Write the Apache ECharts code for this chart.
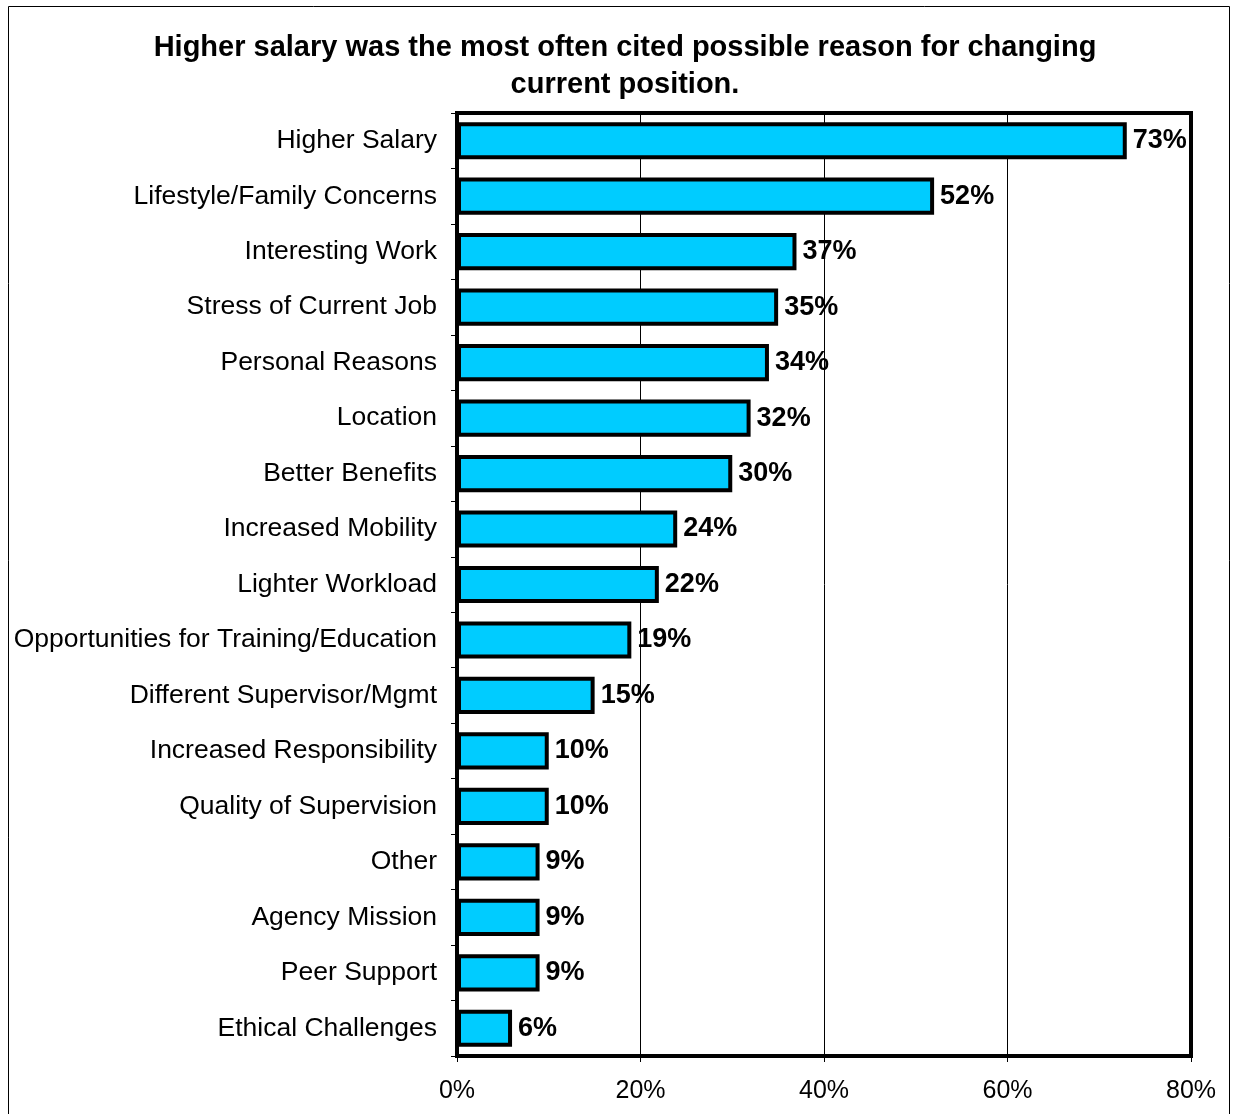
<!DOCTYPE html>
<html><head><meta charset="utf-8">
<script src="https://cdn.jsdelivr.net/npm/echarts@6/dist/echarts.min.js"></script>
<style>html,body{margin:0;padding:0;background:#fff}#c{width:1235px;height:1114px}</style>
</head><body><div id="c"></div>
<script>
const categories = ["Higher Salary","Lifestyle/Family Concerns","Interesting Work","Stress of Current Job","Personal Reasons","Location","Better Benefits","Increased Mobility","Lighter Workload","Opportunities for Training/Education","Different Supervisor/Mgmt","Increased Responsibility","Quality of Supervision","Other","Agency Mission","Peer Support","Ethical Challenges"];
const values = [73,52,37,35,34,32,30,24,22,19,15,10,10,9,9,9,6];
const titleText = "Higher salary was the most often cited possible reason for changing\ncurrent position.";
const xTicks = [0,20,40,60,80];

const chart = echarts.init(document.getElementById('c'), null, {renderer:'canvas'});
const font = '"Liberation Sans", Arial, sans-serif';
chart.setOption({
  animation:false,
  backgroundColor:'#fff',
  title:{text:titleText,left:620,top:24,textAlign:'center',
    textStyle:{fontFamily:font,fontSize:29,fontWeight:'bold',color:'#000',lineHeight:37}},
  graphic:[{type:'rect',shape:{x:8.5,y:6.5,width:1221,height:1200},style:{fill:'none',stroke:'#000',lineWidth:1},silent:true,z:-10}],
  grid:{left:457,right:44,top:113,bottom:58,show:true,borderColor:'#000',borderWidth:4,backgroundColor:'transparent'},
  xAxis:{type:'value',min:0,max:80,interval:20,
    axisLine:{show:false},
    axisTick:{show:true,length:6,lineStyle:{color:'#000',width:1}},
    splitLine:{show:true,lineStyle:{color:'#000',width:1}},
    axisLabel:{formatter:v=>xTicks.includes(v)?v+'%':'',fontFamily:font,fontSize:25,color:'#000',margin:23}},
  yAxis:{type:'category',data:categories,inverse:true,
    axisLine:{show:true,lineStyle:{color:'#000',width:4}},
    axisTick:{show:true,length:6,lineStyle:{color:'#000',width:1}},
    axisLabel:{fontFamily:font,fontSize:26.5,color:'#000',margin:20}},
  series:[{type:'bar',data:values,barCategoryGap:'33%',
    itemStyle:{color:'#00CCFF',borderColor:'#000',borderWidth:4},
    label:{show:true,position:'right',distance:6,formatter:'{c}%',fontFamily:font,fontSize:27,fontWeight:'bold',color:'#000'}}]
});
</script></body></html>
